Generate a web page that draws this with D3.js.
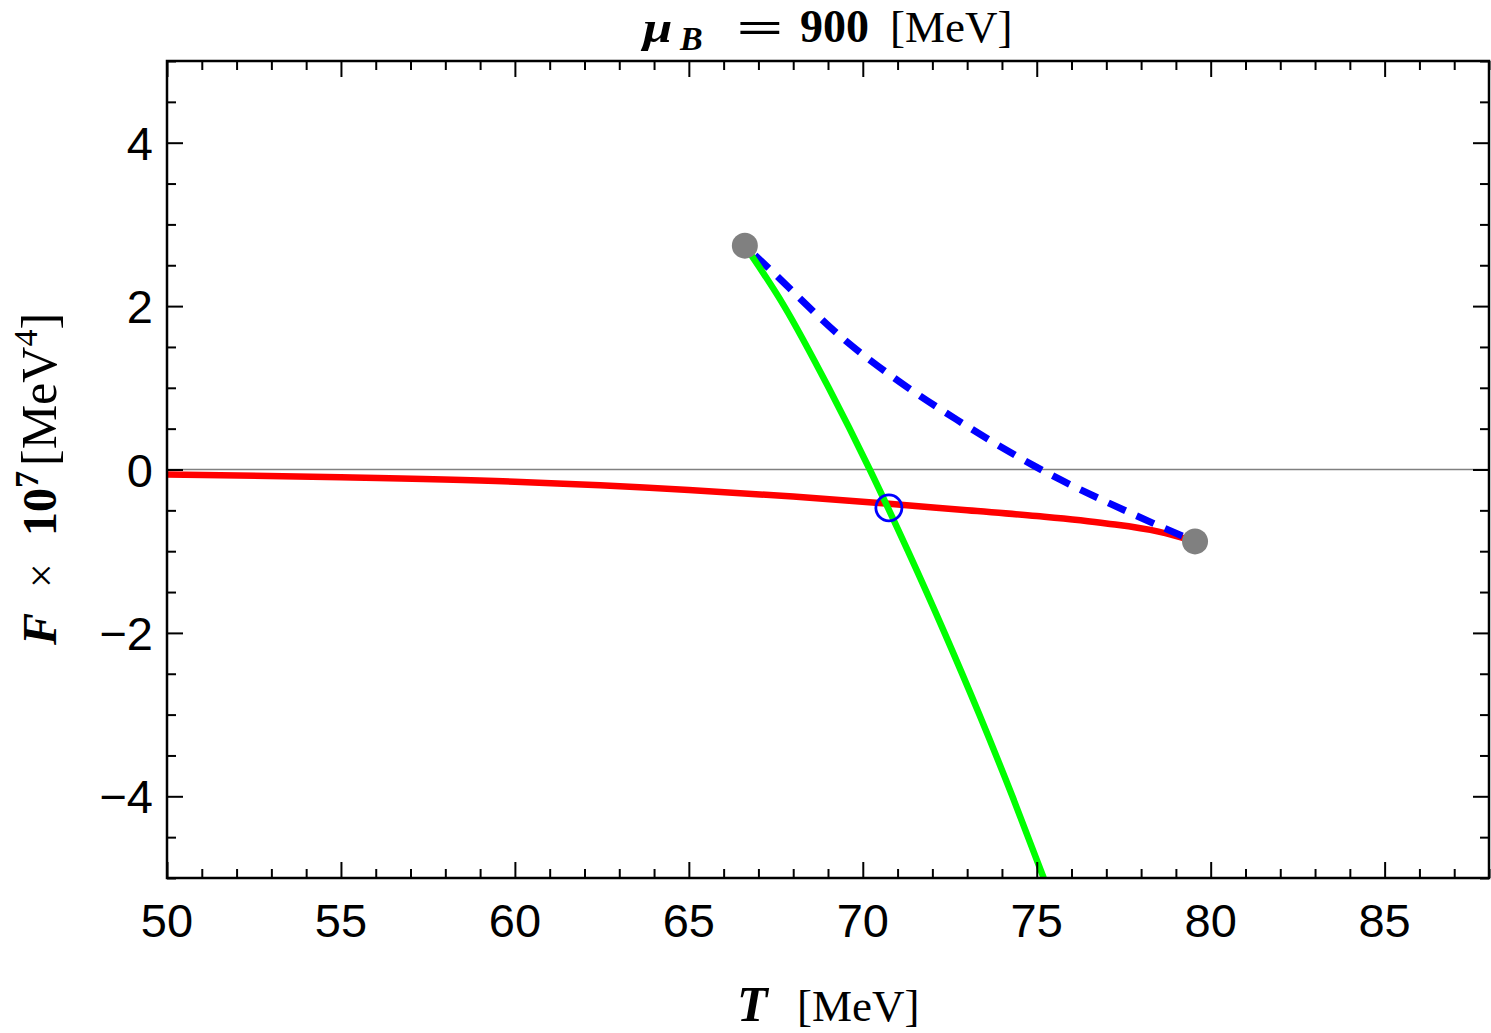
<!DOCTYPE html>
<html>
<head>
<meta charset="utf-8">
<script src="https://cdn.jsdelivr.net/npm/d3@7"></script>
<style>
  body { margin: 0; background: #fff; }
  svg { display: block; }
</style>
</head>
<body>
<svg id="chart" width="1491" height="1033"></svg>
<script>
// ---- Data ----
const xDomain = [50, 88];
const yDomain = [-5, 5];
const xMajorTicks = [50, 55, 60, 65, 70, 75, 80, 85];
const yMajorTicks = [-4, -2, 0, 2, 4];

// stable branch (red)
const redT = [50, 55, 60, 65, 68, 70.75, 73, 75, 77, 78.5, 79.55];
const redF = [-0.06, -0.095, -0.15, -0.25, -0.33, -0.42, -0.50, -0.57, -0.66, -0.76, -0.88];

// green branch
const greenT = [66.61, 67.74, 69.02, 70.2, 71.3, 72.35, 73.35, 74.3, 75.2];
const greenF = [2.74, 2.0, 1.0, 0.0, -1.0, -2.0, -3.0, -4.0, -5.0];

// unstable branch (blue dashed)
const blueT = [66.61, 67.38, 69.44, 71.07, 72.70, 74.90, 77.68, 79.55];
const blueF = [2.74, 2.43, 1.60, 1.07, 0.61, 0.05, -0.53, -0.88];

// end points (gray) and crossing (blue circle)
const endT = [66.61, 79.55];
const endF = [2.74, -0.88];
const crossT = [70.75];
const crossF = [-0.47];

// ---- Layout ----
const svg = d3.select("#chart");
const m = { left: 167, right: 1489, top: 61, bottom: 878 };
const x = d3.scaleLinear().domain(xDomain).range([m.left, m.right]);
const y = d3.scaleLinear().domain(yDomain).range([m.bottom, m.top]);

const zip = (a, b) => a.map((v, i) => [v, b[i]]);

svg.append("clipPath").attr("id", "clip").append("rect")
  .attr("x", m.left).attr("y", m.top)
  .attr("width", m.right - m.left).attr("height", m.bottom - m.top);

// zero line
svg.append("line")
  .attr("x1", x(xDomain[0])).attr("x2", x(xDomain[1]))
  .attr("y1", y(0)).attr("y2", y(0))
  .attr("stroke", "#808080").attr("stroke-width", 1.3);

const line = d3.line().x(d => x(d[0])).y(d => y(d[1])).curve(d3.curveMonotoneX);

const g = svg.append("g").attr("clip-path", "url(#clip)");

g.append("path").datum(zip(redT, redF)).attr("d", line)
  .attr("fill", "none").attr("stroke", "#ff0000").attr("stroke-width", 6.5);

g.append("path").datum(zip(blueT, blueF)).attr("d", line)
  .attr("fill", "none").attr("stroke", "#0000ff").attr("stroke-width", 7)
  .attr("stroke-dasharray", "19,12").attr("stroke-dashoffset", -14);

g.append("path").datum(zip(greenT, greenF)).attr("d", line)
  .attr("fill", "none").attr("stroke", "#00ff00").attr("stroke-width", 6.5);

g.selectAll("circle.end").data(zip(endT, endF)).enter().append("circle")
  .attr("class", "end")
  .attr("cx", d => x(d[0])).attr("cy", d => y(d[1])).attr("r", 13)
  .attr("fill", "#808080");

g.selectAll("circle.cross").data(zip(crossT, crossF)).enter().append("circle")
  .attr("class", "cross")
  .attr("cx", d => x(d[0])).attr("cy", d => y(d[1])).attr("r", 13)
  .attr("fill", "none").attr("stroke", "#0000ff").attr("stroke-width", 2.8);

// ---- Axes (ticks inside, mirrored) ----
const xMinor = d3.range(xDomain[0], xDomain[1] + 0.001, 1).filter(v => !xMajorTicks.includes(v));
const yMinor = d3.range(yDomain[0], yDomain[1] + 0.001, 0.5).filter(v => !yMajorTicks.includes(v));
const MAJ = 16, MIN = 9;

function axis(gen, scale, transform, ticks, len) {
  svg.append("g").attr("transform", transform)
    .call(gen(scale).tickValues(ticks).tickSize(len).tickFormat(""))
    .call(s => s.select(".domain").remove())
    .call(s => s.selectAll(".tick line").attr("stroke", "#000").attr("stroke-width", 2));
}
axis(d3.axisTop, x, `translate(0,${m.bottom})`, xMajorTicks, MAJ);
axis(d3.axisTop, x, `translate(0,${m.bottom})`, xMinor, MIN);
axis(d3.axisBottom, x, `translate(0,${m.top})`, xMajorTicks, MAJ);
axis(d3.axisBottom, x, `translate(0,${m.top})`, xMinor, MIN);
axis(d3.axisRight, y, `translate(${m.left},0)`, yMajorTicks, MAJ);
axis(d3.axisRight, y, `translate(${m.left},0)`, yMinor, MIN);
axis(d3.axisLeft, y, `translate(${m.right},0)`, yMajorTicks, MAJ);
axis(d3.axisLeft, y, `translate(${m.right},0)`, yMinor, MIN);

svg.append("rect")
  .attr("x", m.left).attr("y", m.top)
  .attr("width", m.right - m.left).attr("height", m.bottom - m.top)
  .attr("fill", "none").attr("stroke", "#000").attr("stroke-width", 2.5);

// tick labels
const tickFont = "'Liberation Sans', Arial, Helvetica, sans-serif";
svg.append("g").selectAll("text").data(xMajorTicks).enter().append("text")
  .attr("x", d => x(d)).attr("y", 937)
  .attr("text-anchor", "middle")
  .attr("font-family", tickFont).attr("font-size", 47)
  .text(d => d);

svg.append("g").selectAll("text").data(yMajorTicks).enter().append("text")
  .attr("x", 153).attr("y", d => y(d) + 17)
  .attr("text-anchor", "end")
  .attr("font-family", tickFont).attr("font-size", 47)
  .text(d => d < 0 ? "\u2212" + Math.abs(d) : d);

// ---- Titles ----
const serif = "'Liberation Serif', 'Times New Roman', serif";

// title
const tY = 42;
const tt = svg.append("g").attr("font-family", serif);
tt.append("text").attr("x", 643).attr("y", tY).attr("font-size", 44)
  .attr("font-weight", "bold").attr("font-style", "italic").attr("transform", `translate(643,${tY}) scale(1.2,1) translate(-643,${-tY})`).text("μ");
tt.append("text").attr("x", 680).attr("y", tY + 8).attr("font-size", 34)
  .attr("font-weight", "bold").attr("font-style", "italic").text("B");
tt.append("text").attr("transform", `translate(760,${tY}) scale(1.9,1)`)
  .attr("text-anchor", "middle").attr("font-size", 44).attr("font-weight", "bold").text("=");
tt.append("text").attr("x", 800).attr("y", tY).attr("font-size", 46)
  .attr("font-weight", "bold").text("900");
tt.append("text").attr("x", 890).attr("y", tY).attr("font-size", 45).text("[MeV]");

// x label
const xY = 1021;
svg.append("text").attr("x", 737).attr("y", xY).attr("font-family", serif)
  .attr("font-size", 50).attr("font-weight", "bold").attr("font-style", "italic").text("T");
svg.append("text").attr("x", 797).attr("y", xY).attr("font-family", serif)
  .attr("font-size", 45).text("[MeV]");

// y label (rotated; text x = -screenY)
const yl = svg.append("g").attr("transform", "translate(56,0) rotate(-90)")
  .attr("font-family", serif);
yl.append("text").attr("x", -645).attr("y", 0).attr("font-size", 48)
  .attr("font-weight", "bold").attr("font-style", "italic").text("F");
yl.append("text").attr("x", -588).attr("y", 0).attr("font-size", 44).text("×");
const ten = yl.append("text").attr("x", -536).attr("y", 0).attr("font-size", 48).attr("font-weight", "bold");
ten.append("tspan").text("10");
ten.append("tspan").attr("font-size", 34).attr("dy", -18).text("7");
const mev = yl.append("text").attr("x", -466).attr("y", 0).attr("font-size", 50);
mev.append("tspan").text("[MeV");
mev.append("tspan").attr("font-size", 34).attr("dy", -19).text("4");
mev.append("tspan").attr("dy", 19).text("]");
</script>
</body>
</html>
